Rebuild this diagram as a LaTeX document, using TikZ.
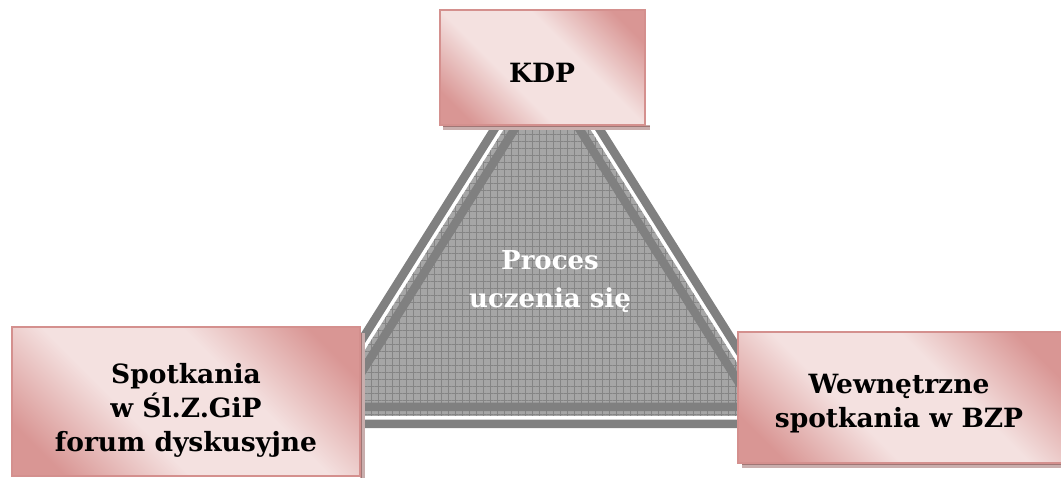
\documentclass[tikz,border=0pt]{standalone}
\usepackage{fontspec}
\setmainfont{DejaVu Serif}
\usetikzlibrary{patterns,patterns.meta}
\definecolor{pinkdark}{HTML}{D99694}
\definecolor{pinklight}{HTML}{F4E1E0}
\definecolor{pinkedge}{HTML}{D4908E}
\definecolor{pinkshadow}{HTML}{C9AEAD}
\definecolor{pinkshadowline}{HTML}{A07675}
\definecolor{bandgray}{HTML}{808080}
\definecolor{texbase}{HTML}{A6A6A6}
\definecolor{texline}{HTML}{858585}
\pgfdeclareverticalshading{pinkdiag}{100bp}{color(0bp)=(pinkdark); color(22bp)=(pinkdark); color(40bp)=(pinklight); color(60bp)=(pinklight); color(78bp)=(pinkdark); color(100bp)=(pinkdark)}
\tikzset{
  pinkbox/.style={draw=pinkedge, line width=1.2pt, shading=pinkdiag, shading angle=-45},
  boxshadow/.style={fill=pinkshadow},
  band/.style={draw=bandgray, line width=8.5pt, line join=miter},
  boxtext/.style={font=\bfseries\fontsize{26.5}{34}\selectfont, align=center, text=black, inner sep=0pt},
  centertext/.style={font=\bfseries\fontsize{26}{38}\selectfont, align=center, text=white, inner sep=0pt}
}
\begin{document}
\begin{tikzpicture}[x=1pt,y=-1pt]
\useasboundingbox (0,0) rectangle (1061,478);
% textured triangle (inset 8)
\fill[texbase] (547,60.6) -- (323.5,416) -- (770.5,416) -- cycle;
\fill[pattern={Hatch[distance=7pt,line width=1pt]}, pattern color=texline] (547,60.6) -- (323.5,416) -- (770.5,416) -- cycle;
% outer band
\draw[band] (547,45.6) -- (309,424) -- (785,424) -- cycle;
% inner band (inset 17)
\draw[band] (547,77.5) -- (339.8,407) -- (754.2,407) -- cycle;
% shadows
\fill[boxshadow] (443,125) rectangle (650,130);
\draw[pinkshadowline, line width=0.8pt] (443,126.5) -- (650,126.5);
\fill[boxshadow] (360,333) rectangle (364.5,478);
\draw[pinkshadowline, line width=0.8pt] (361.5,333) -- (361.5,478);
\fill[boxshadow] (742,463) rectangle (1061,467.5);
\draw[pinkshadowline, line width=0.8pt] (742,464.5) -- (1061,464.5);
% boxes
\shade[pinkbox] (440,10) rectangle (645,125);
\shade[pinkbox] (12,327) rectangle (360,476);
\shade[pinkbox] (738,332) rectangle (1063,463);
% texts
\node[boxtext] (kdp) at (542,73) {KDP};
\node[boxtext] (left) at (186,410) {Spotkania\\w Śl.Z.GiP\\forum dyskusyjne};
\node[boxtext] (right) at (899,404) {Wewnętrzne\\spotkania w BZP};
\node[centertext] (proc) at (550,282) {Proces\\uczenia się};
\end{tikzpicture}
\end{document}
